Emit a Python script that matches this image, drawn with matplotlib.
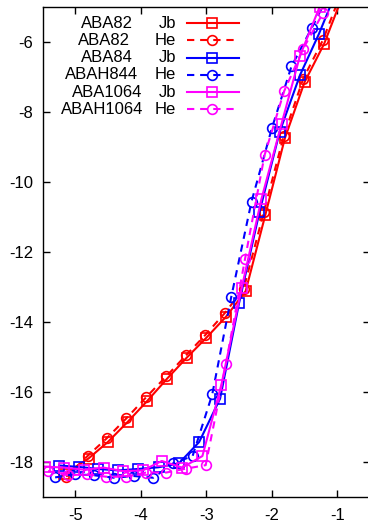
import matplotlib
matplotlib.use("Agg")
import matplotlib.pyplot as plt

plt.rcParams['font.family'] = ['Liberation Sans', 'DejaVu Sans']
plt.rcParams['font.size'] = 12
plt.rcParams['axes.unicode_minus'] = False

# ABA82 (red)
x_aba82_jb = [-5.17, -4.8, -4.5, -4.2, -3.9, -3.6, -3.3, -3.0, -2.7, -2.4, -2.1, -1.8, -1.5, -1.2, -0.9]
y_aba82_jb = [-18.35, -17.9, -17.42, -16.85, -16.25, -15.62, -15.02, -14.45, -13.85, -13.12,
              -10.95, -8.75, -7.15, -6.05, -4.6]
x_aba82_he = [-5.14, -4.81, -4.52, -4.22, -3.92, -3.61, -3.31, -3.02, -2.72, -2.43, -2.12, -1.82, -1.52, -1.22, -0.92]
y_aba82_he = [-18.42, -17.82, -17.32, -16.75, -16.15, -15.55, -14.95, -14.38, -13.75, -13.05,
              -10.85, -8.7, -7.05, -5.95, -4.5]

# ABA84 / ABAH844 (blue)
x_aba84_jb = [-5.25, -4.95, -4.65, -4.35, -4.05, -3.73, -3.42, -3.11, -2.79, -2.5, -2.19, -1.88, -1.57, -1.28, -0.98]
y_aba84_jb = [-18.1, -18.14, -18.2, -18.24, -18.2, -18.15, -18.04, -17.43, -16.19, -13.46,
              -10.87, -8.57, -6.95, -5.77, -4.4]
x_abah844_he = [-5.31, -5.01, -4.71, -4.41, -4.11, -3.81, -3.51, -3.21, -2.91, -2.62, -2.31, -2.0, -1.7, -1.39, -1.09]
y_abah844_he = [-18.44, -18.35, -18.38, -18.45, -18.4, -18.45, -18.04, -17.83, -16.07, -13.29,
                -10.56, -8.47, -6.7, -5.6, -4.5]

# ABA1064 / ABAH1064 (magenta)
x_aba1064_jb = [-5.47, -5.17, -4.87, -4.57, -4.27, -3.97, -3.68, -3.37, -3.06, -2.77, -2.46, -2.16, -1.85, -1.57, -1.27]
y_aba1064_jb = [-18.13, -18.16, -18.22, -18.16, -18.26, -18.24, -17.97, -18.16, -17.83, -15.79,
                -13.03, -10.5, -8.33, -6.4, -5.0]
x_abah1064_he = [-5.42, -5.11, -4.83, -4.53, -4.22, -3.92, -3.61, -3.31, -3.01, -2.7, -2.41, -2.11, -1.81, -1.52, -1.22]
y_abah1064_he = [-18.26, -18.38, -18.35, -18.42, -18.42, -18.3, -18.3, -18.19, -18.09, -15.19,
                 -12.21, -9.23, -7.4, -6.19, -5.18]

names = ['ABA82', 'ABA82', 'ABA84', 'ABAH844', 'ABA1064', 'ABAH1064']
kinds = ['Jb', 'He', 'Jb', 'He', 'Jb', 'He']
series = [(x_aba82_jb, y_aba82_jb), (x_aba82_he, y_aba82_he),
          (x_aba84_jb, y_aba84_jb), (x_abah844_he, y_abah844_he),
          (x_aba1064_jb, y_aba1064_jb), (x_abah1064_he, y_abah1064_he)]
colors = ['#ff0000', '#ff0000', '#0000ff', '#0000ff', '#ff00ff', '#ff00ff']

def style(i):
    kw = dict(color=colors[i], lw=1.5, mfc='none', mew=1.2, ms=7)
    if kinds[i] == 'Jb':
        kw.update(marker='s', ls='-')
    else:
        kw.update(marker='o', ls=(0, (3.5, 2.8)))
    return kw

fig = plt.figure(figsize=(3.68, 5.23), dpi=100)
ax = fig.add_axes([0.116, 0.0497, 0.8894, 0.937])

for i, (xs, ys) in enumerate(series):
    ax.plot(xs, ys, **style(i))

ax.set_xlim(-5.5, -0.5)
ax.set_ylim(-19, -5)
ax.set_xticks([-5, -4, -3, -2, -1])
ax.set_yticks([-18, -16, -14, -12, -10, -8, -6])
ax.tick_params(direction='in', length=5, width=1, top=True, right=True)
ax.tick_params(axis='x', pad=8)
ax.tick_params(axis='y', pad=7)
for s in ax.spines.values():
    s.set_linewidth(1)

# key, gnuplot style
row_y = [0.9667, 0.9316, 0.8965, 0.8614, 0.8263, 0.7912]
name_x = [0.1965, 0.186, 0.1965, 0.181, 0.198, 0.181]
for i in range(len(names)):
    y = row_y[i]
    ax.text(name_x[i], y, names[i], transform=ax.transAxes, ha='center', va='center')
    ax.text(0.407, y, kinds[i], transform=ax.transAxes, ha='right', va='center')
    ax.plot([0.441, 0.517, 0.6], [y, y, y], transform=ax.transAxes,
            markevery=[1], clip_on=False, **style(i))

fig.savefig('out.png', dpi=100)
